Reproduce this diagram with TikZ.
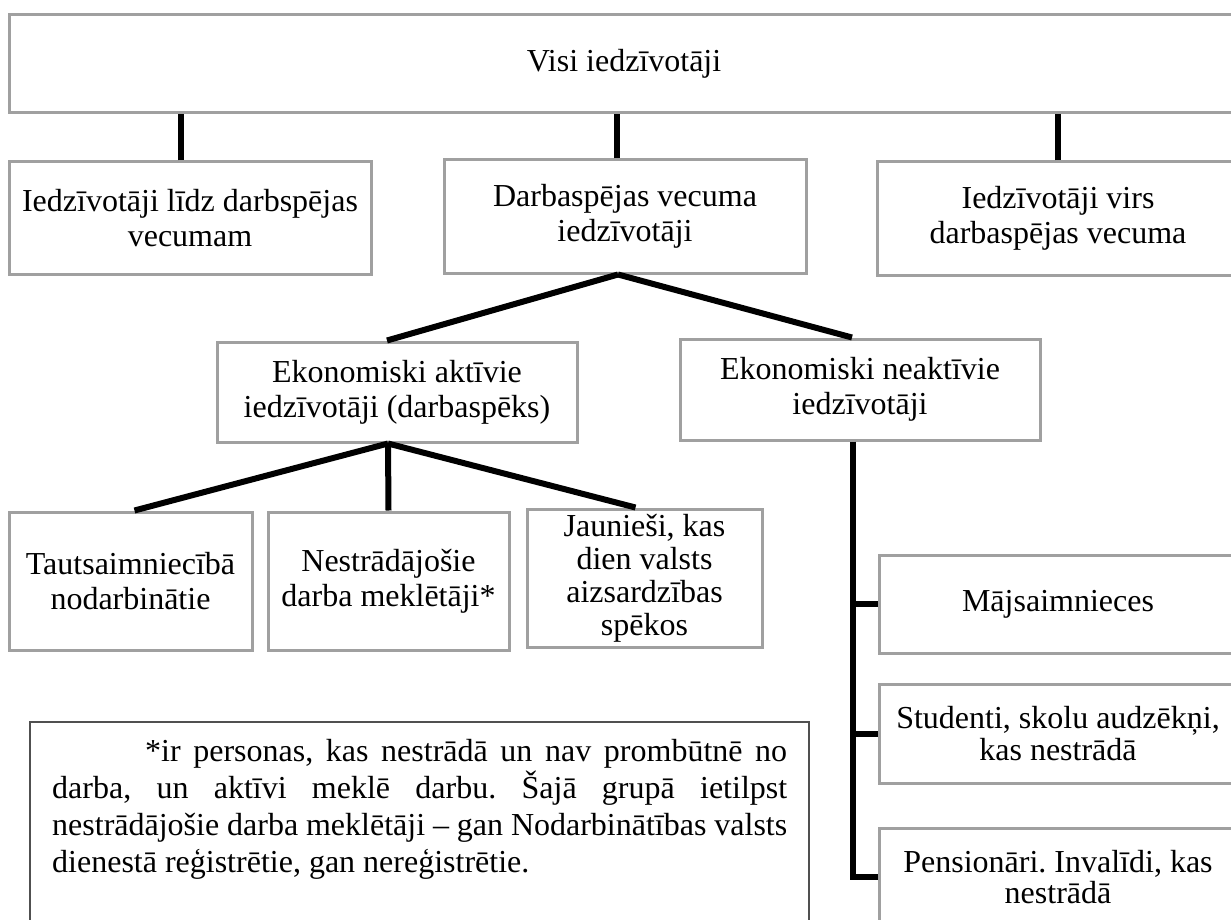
\documentclass[tikz,border=0pt]{standalone}
\usepackage{fontspec}
\setmainfont{Liberation Serif}
\usetikzlibrary{calc}
\frenchspacing

\definecolor{boxgray}{HTML}{A0A0A0}
\definecolor{notegray}{HTML}{505050}

\tikzset{
  box/.style={draw=boxgray, line width=3pt, fill=white, rectangle, align=center,
    inner sep=0pt, font=\fontsize{32}{35}\selectfont},
  conn/.style={line width=6pt, black},
  notebox/.style={draw=notegray, line width=2pt},
}

\begin{document}
\begin{tikzpicture}[x=1pt, y=-1pt]
    \clip (0,0) rectangle (1231,920);
    \fill[white] (0,0) rectangle (1231,920);

    % top level
    \node[box, minimum width=1230, minimum height=98] (all) at (624,64) {Visi iedzīvotāji};

    % age groups
    \node[box, minimum width=362, minimum height=112] (young) at (190,218) {Iedzīvotāji līdz darbspējas\\vecumam};
    \node[box, minimum width=362, minimum height=113] (work) at (625,216.5) {Darbaspējas vecuma\\iedzīvotāji};
    \node[box, minimum width=362, minimum height=113] (old) at (1058,218.5) {Iedzīvotāji virs\\darbaspējas vecuma};

    % activity
    \node[box, minimum width=360, minimum height=100] (act) at (397,392) {Ekonomiski aktīvie\\iedzīvotāji (darbaspēks)};
    \node[box, minimum width=360, minimum height=101] (inact) at (860,389.5) {Ekonomiski neaktīvie\\iedzīvotāji};

    % active groups
    \node[box, minimum width=243, minimum height=138] (empl) at (130.5,581) {Tautsaimniecībā\\nodarbinātie};
    \node[box, minimum width=241, minimum height=138] (unemp) at (388.5,581) {Nestrādājošie\\darba meklētāji*};
    \node[box, minimum width=235, minimum height=138, font=\fontsize{32}{33}\selectfont] (army) at (644.5,578) {Jaunieši, kas\\dien valsts\\aizsardzības\\spēkos};

    % inactive groups
    \node[box, minimum width=358, minimum height=98] (house) at (1058,604) {Mājsaimnieces};
    \node[box, minimum width=358, minimum height=99, font=\fontsize{32}{32}\selectfont] (stud) at (1058,733.5) {Studenti, skolu audzēkņi,\\kas nestrādā};
    \node[box, minimum width=358, minimum height=98, font=\fontsize{32}{31}\selectfont] (pens) at (1058,877) {Pensionāri. Invalīdi, kas\\nestrādā};

    % connectors
    \draw[conn] ([xshift=-9pt]young.north) -- ([xshift=-9pt]young.north |- all.south);
    \draw[conn] ([xshift=-8pt]work.north) -- ([xshift=-8pt]work.north |- all.south);
    \draw[conn] (old.north) -- (old.north |- all.south);

    \draw[conn] ([xshift=-7pt]work.south) -- ([xshift=-10pt]act.north);
    \draw[conn] ([xshift=-7pt]work.south) -- ([xshift=-8pt]inact.north);

    \draw[conn] ([xshift=-9pt]act.south) -- ([xshift=4pt]empl.north);
    \draw[conn] ([xshift=-9pt]act.south) -- (unemp.north);
    \draw[conn] ([xshift=-9pt]act.south) -- ([xshift=-9pt]army.north);

    \coordinate (spine) at ([xshift=-7pt]inact.south);
    \draw[conn] (spine) -- (spine |- pens.west) -- (pens.west);
    \draw[conn] (house.west) -- (house.west -| spine);
    \draw[conn] (stud.west) -- (stud.west -| spine);

    % footnote
    \draw[notebox] (30,722) rectangle (809,935);
    \node[anchor=north west, inner sep=0pt, align=left, font=\fontsize{32}{37}\selectfont] (note) at (52,739)
      {\hspace*{93pt}\makebox[642pt][s]{*ir personas, kas nestrādā un nav prombūtnē no}\\
       \makebox[735pt][s]{darba, un aktīvi meklē darbu. Šajā grupā ietilpst}\\
       \makebox[735pt][s]{nestrādājošie darba meklētāji – gan Nodarbinātības valsts}\\
       dienestā reģistrētie, gan nereģistrētie.};
\end{tikzpicture}
\end{document}
